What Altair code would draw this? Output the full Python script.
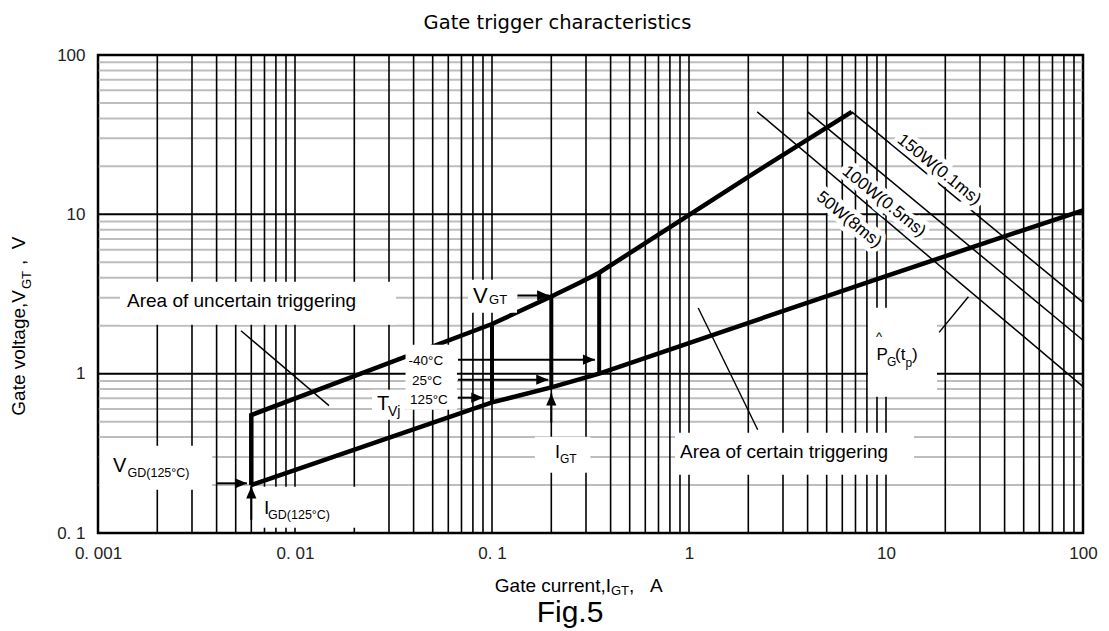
import altair as alt
import pandas as pd

# ---------------- values ----------------
upper_x = [0.006, 0.006, 0.1, 0.2, 0.28, 0.35, 2.0, 6.7]
upper_y = [0.2, 0.55, 2.05, 3.05, 3.73, 4.3, 17.2, 44.0]
lower_x = [0.006, 0.1, 0.2, 0.35, 10.0, 100.0]
lower_y = [0.2, 0.66, 0.82, 1.0, 4.1, 10.6]

bar_x = [0.1, 0.2, 0.35]
bar_lo = [0.66, 0.82, 1.0]
bar_hi = [2.05, 3.05, 4.3]

power_labels = ["150W(0.1ms)", "100W(0.5ms)", "50W(8ms)"]
power_x1 = [6.7, 4.0, 2.22]
power_y1 = [44.0, 44.0, 44.0]
power_x2 = [100.0, 100.0, 100.0]
power_y2 = [2.8, 1.62, 0.83]
power_lab_x = [18.6, 9.77, 6.49]
power_lab_y = [19.08, 12.07, 9.26]

pointer_x1 = [0.00532, 1.114, 26.2]
pointer_y1 = [1.86, 2.585, 3.04]
pointer_x2 = [0.01488, 2.232, 18.6]
pointer_y2 = [0.63, 0.445, 1.817]

arrow_x1 = [0.00402, 0.006, 0.1346, 0.0672, 0.0672, 0.0672, 0.2]
arrow_y1 = [0.205, 0.121, 3.1, 1.224, 0.917, 0.707, 0.493]
arrow_x2 = [0.0057, 0.006, 0.195, 0.333, 0.193, 0.0903, 0.2]
arrow_y2 = [0.205, 0.196, 3.1, 1.224, 0.917, 0.707, 0.75]
arrow_dir = [0, 270, 0, 0, 0, 0, 270]

# white label backgrounds (x1, x2, y1, y2)
box_x1 = [0.001293, 0.849, 0.0755, 0.0364, 0.0246, 0.165, 0.001024, 0.00649, 8.1]
box_x2 = [0.0326, 13.87, 0.134, 0.0664, 0.0364, 0.316, 0.0038, 0.0209, 18.15]
box_y1 = [2.03, 0.232, 2.415, 0.594, 0.514, 0.239, 0.187, 0.108, 0.717]
box_y2 = [3.78, 0.426, 3.89, 1.52, 0.794, 0.402, 0.353, 0.195, 2.595]

# annotation texts (left aligned, data coordinates)
ann_text = ["Area of uncertain triggering", "Area of certain triggering",
            "V", "GT", "-40°C", "25°C", "125°C", "T", "Vj",
            "I", "GT", "V", "GD(125°C)", "I", "GD(125°C)",
            "^", "P", "G", "(t", "p", ")"]
ann_x = [0.001403, 0.9, 0.0801, 0.0966, 0.0377, 0.0392, 0.0384, 0.0261, 0.02965,
         0.2088, 0.2213, 0.00119, 0.001412, 0.00696, 0.0073,
         8.9, 8.95, 10.12, 11.11, 12.56, 13.55]
ann_y = [2.873, 0.324, 3.06, 2.91, 1.195, 0.895, 0.687, 0.648, 0.577,
         0.319, 0.292, 0.262, 0.239, 0.144, 0.13,
         1.706, 1.316, 1.19, 1.316, 1.172, 1.316]
ann_size = [19, 19, 22, 13, 13.5, 13.5, 13.5, 20, 14,
            18, 12, 20, 12.5, 19, 12.5,
            13, 17, 12, 17, 12, 17]

x_ticks = [0.001, 0.01, 0.1, 1, 10, 100]
y_ticks = [0.1, 1, 10, 100]
x_grid = [m * 10.0 ** e for e in range(-3, 2) for m in range(1, 10)] + [100.0]
y_grid_major = [0.1, 1.0, 10.0, 100.0]
y_grid_minor = [m * 10.0 ** e for e in range(-1, 2) for m in range(2, 10)]

FONT = "Liberation Sans"
NB = "\u00a0"

xs = alt.Scale(type="log", domain=[0.001, 100], nice=False)
ys = alt.Scale(type="log", domain=[0.1, 100], nice=False)

x_axis = alt.Axis(values=x_ticks, title="", ticks=False, domain=False, grid=False,
                  labelExpr="datum.value < 0.005 ? '0. 001' : datum.value < 0.05 ? '0. 01' : "
                            "datum.value < 0.5 ? '0. 1' : datum.value < 5 ? '1' : "
                            "datum.value < 50 ? '10' : '100'",
                  labelFont=FONT, labelFontSize=17, labelColor="#222222",
                  labelPadding=12, labelFlush=False, labelOverlap=False, labelBound=False)
y_axis = alt.Axis(values=y_ticks, title="", ticks=False, domain=False, grid=False,
                  labelExpr="datum.value < 0.5 ? '0. 1' : datum.value < 5 ? '1' : "
                            "datum.value < 50 ? '10' : '100'",
                  labelFont=FONT, labelFontSize=17, labelColor="#222222",
                  labelPadding=13, labelFlush=False, labelOverlap=False, labelBound=False)


def X(f):
    return alt.X(f, type="quantitative", scale=xs, axis=x_axis)


def Y(f):
    return alt.Y(f, type="quantitative", scale=ys, axis=y_axis)


# ---------------- grid ----------------
vgrid = alt.Chart(pd.DataFrame({"x": x_grid})).mark_rule(color="black", strokeWidth=1.6).encode(
    x=X("x"))
hgrid_minor = alt.Chart(pd.DataFrame({"y": y_grid_minor})).mark_rule(
    color="#bdbdbd", strokeWidth=2).encode(y=Y("y"))
hgrid_major = alt.Chart(pd.DataFrame({"y": y_grid_major})).mark_rule(
    color="black", strokeWidth=2).encode(y=Y("y"))

# ---------------- curves ----------------
df_up = pd.DataFrame({"x": upper_x, "y": upper_y, "i": list(range(len(upper_x)))})
df_lo = pd.DataFrame({"x": lower_x, "y": lower_y, "i": list(range(len(lower_x)))})
upper = alt.Chart(df_up).mark_line(color="black", strokeWidth=4.5, strokeJoin="miter").encode(
    x=X("x"), y=Y("y"), order="i:Q")
lower = alt.Chart(df_lo).mark_line(color="black", strokeWidth=4.5).encode(
    x=X("x"), y=Y("y"), order="i:Q")

bars = alt.Chart(pd.DataFrame({"x": bar_x, "lo": bar_lo, "hi": bar_hi})).mark_rule(
    color="black", strokeWidth=4).encode(x=X("x"), y=Y("lo"), y2="hi")

df_pw = pd.DataFrame({"x1": power_x1, "y1": power_y1, "x2": power_x2, "y2": power_y2})
power = alt.Chart(df_pw).mark_rule(color="black", strokeWidth=1.5).encode(
    x=X("x1"), y=Y("y1"), x2="x2", y2="y2")

df_pt = pd.DataFrame({"x1": pointer_x1, "y1": pointer_y1, "x2": pointer_x2, "y2": pointer_y2})
pointers = alt.Chart(df_pt).mark_rule(color="black", strokeWidth=1.4).encode(
    x=X("x1"), y=Y("y1"), x2="x2", y2="y2")

df_ar = pd.DataFrame({"x1": arrow_x1, "y1": arrow_y1, "x2": arrow_x2, "y2": arrow_y2, "a": arrow_dir})
arrow_body = alt.Chart(df_ar).mark_rule(color="black", strokeWidth=2).encode(
    x=X("x1"), y=Y("y1"), x2="x2", y2="y2")
arrow_head = alt.Chart(df_ar).mark_point(
    shape="M0,0L-2,-0.85L-2,0.85Z", filled=True, color="black", size=144, opacity=1,
    strokeWidth=0).encode(x=X("x2"), y=Y("y2"), angle=alt.Angle("a:Q", scale=None))

# ---------------- label backgrounds ----------------
df_box = pd.DataFrame({"x1": box_x1, "x2": box_x2, "y1": box_y1, "y2": box_y2})
boxes = alt.Chart(df_box).mark_rect(color="white", opacity=1).encode(
    x=X("x1"), x2="x2", y=Y("y1"), y2="y2")

# ---------------- annotation texts ----------------
df_ann = pd.DataFrame({"t": ann_text, "x": ann_x, "y": ann_y, "fs": ann_size})
ann = alt.Chart(df_ann).mark_text(align="left", baseline="middle", font=FONT, color="black").encode(
    x=X("x"), y=Y("y"), text="t:N", size=alt.Size("fs:Q", scale=None))

df_pl = pd.DataFrame({"t": power_labels, "x": power_lab_x, "y": power_lab_y})
pl_halo = alt.Chart(df_pl).mark_text(align="center", baseline="middle", font=FONT, fontSize=17,
                                     angle=39, color="white", stroke="white", strokeWidth=9).encode(
    x=X("x"), y=Y("y"), text="t:N")
pl_text = alt.Chart(df_pl).mark_text(align="center", baseline="middle", font=FONT, fontSize=17,
                                     angle=39, color="black").encode(
    x=X("x"), y=Y("y"), text="t:N")


def static_text(text, px, py, size, align="left", angle=0, font=FONT):
    kw = dict(align=align, baseline="middle", font=font, fontSize=size, color="black")
    if angle:
        kw["angle"] = angle
    return alt.Chart(pd.DataFrame({"t": [text]})).mark_text(**kw).encode(
        x=alt.value(px), y=alt.value(py), text="t:N")


statics = [
    static_text("Gate trigger characteristics", 459.5, -32, 19.5, "center", font="DejaVu Sans"),
    static_text("Gate current,I", 513, 531, 19, "right"),
    static_text("GT", 513, 536, 13, "left"),
    static_text("," + NB * 3 + "A", 531, 531, 19, "left"),
    static_text("Gate voltage,V", -79, 235, 19, "right", angle=270),
    static_text("GT", -71, 234, 13, "left", angle=270),
    static_text("," + NB * 2 + "V", -79, 210, 19, "left", angle=270),
    static_text("Fig.5", 472, 558, 30, "center"),
]

chart = alt.layer(
    hgrid_minor, hgrid_major, vgrid,
    upper, lower, bars, power, pointers, arrow_body, arrow_head,
    boxes, ann, pl_halo, pl_text, *statics
).properties(
    width=985, height=478,
    autosize=alt.AutoSizeParams(type="none"),
    padding={"left": 98, "top": 55, "right": 26, "bottom": 98},
    background="white",
).configure_view(stroke="black", strokeWidth=2.5)

chart.save("out.html", embed_options={"renderer": "svg", "actions": False})
